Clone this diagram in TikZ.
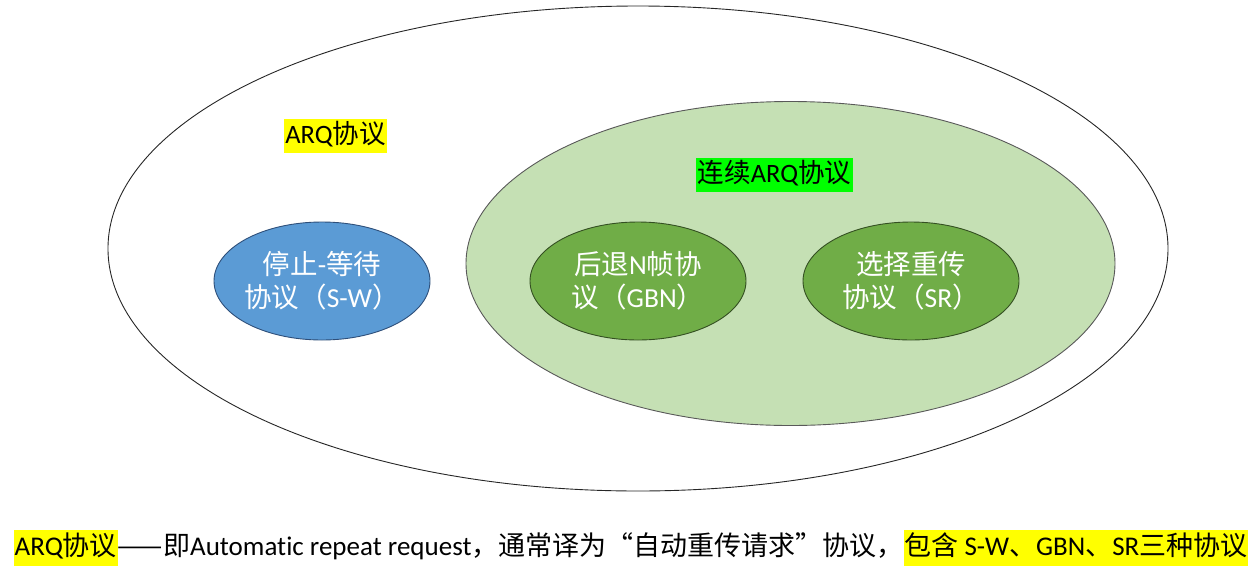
\documentclass[tikz,border=0pt]{standalone}
\usepackage{fontspec}
\usetikzlibrary{shapes.geometric}
\setmainfont{Carlito}[Ligatures=NoCommon]
\newfontfamily\cjk{Noto Sans CJK SC}
\newcommand\zh[1]{{\cjk #1}}
\definecolor{swblue}{HTML}{5B9BD5}
\definecolor{swedge}{HTML}{2E4F7A}
\definecolor{gdark}{HTML}{70AD47}
\definecolor{gedge}{HTML}{344F22}
\definecolor{glight}{HTML}{C5E0B4}
\definecolor{hlyellow}{HTML}{FFFF00}
\definecolor{hlgreen}{HTML}{00FF00}
\newcommand\hl[2]{{\setlength\fboxsep{1pt}\colorbox{#1}{\rule[-9pt]{0pt}{34pt}#2}}}
\tikzset{
  bigell/.style={ellipse, inner sep=0pt},
  smallell/.style={ellipse, inner sep=0pt, minimum width=216pt, minimum height=118pt, line width=0.9pt},
  elltext/.style={inner sep=0pt, text=white, align=center, font=\fontsize{27.5}{33}\selectfont},
  tag/.style={inner xsep=1.5pt, inner ysep=0pt, text height=24pt, text depth=10pt, font=\fontsize{26.5}{30}\selectfont, text=black}
}
\begin{document}
\begin{tikzpicture}[x=1pt,y=-1pt]
\useasboundingbox (0,0) rectangle (1259,571);
\node[bigell, draw=black!85, line width=0.9pt, minimum width=1060pt, minimum height=485pt] (arq) at (638,248.5) {};
\node[bigell, draw=black!65, fill=glight, line width=0.9pt, minimum width=649pt, minimum height=324pt] (cont) at (790.5,263.5) {};
\node[tag, fill=hlyellow] (arqlabel) at (335.5,136) {ARQ\zh{协议}};
\node[tag, fill=hlgreen] (contlabel) at (774.5,175) {\zh{连续}ARQ\zh{协议}};
\node[smallell, draw=swedge, fill=swblue] (sw) at (322,281) {};
\node[elltext] (swtext) at (sw.center) {\zh{停止}-\zh{等待}\\\zh{协议（}S-W\zh{）}};
\node[smallell, draw=gedge, fill=gdark] (gbn) at (638,281) {};
\node[elltext] (gbntext) at (gbn.center) {\zh{后退}N\zh{帧协}\\\zh{议（}GBN\zh{）}};
\node[smallell, draw=gedge, fill=gdark] (sr) at (911,281) {};
\node[elltext] (srtext) at (sr.center) {\zh{选择重传}\\\zh{协议（}SR\zh{）}};
\node[anchor=west, inner sep=0pt, font=\fontsize{27}{30}\selectfont] (note) at (13.5,547.5) {\hl{hlyellow}{ARQ\zh{协议}}\zh{——即}Automatic repeat request\zh{，通常译为“自动重传请求”协议，}\hl{hlyellow}{\zh{包含} S-W\zh{、}GBN\zh{、}SR\zh{三种协议}}};
\end{tikzpicture}
\end{document}
